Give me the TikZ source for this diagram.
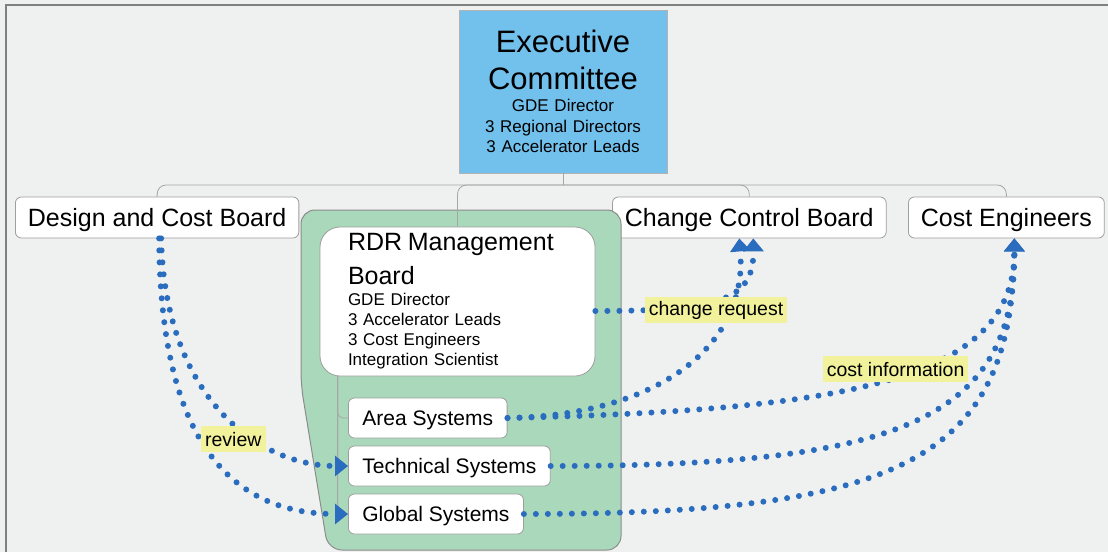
\documentclass[tikz,border=0pt]{standalone}
\usepackage{fontspec}
\setmainfont{Liberation Sans}
\usepackage{xcolor}
\usetikzlibrary{arrows.meta}
\definecolor{bggrey}{HTML}{EFF0F0}
\definecolor{execblue}{HTML}{72C0EC}
\definecolor{rdrgreen}{HTML}{AAD8BB}
\definecolor{flowblue}{HTML}{2A6CBE}
\definecolor{tagyellow}{HTML}{F2F29C}
\colorlet{edgegrey}{black!38}
\newcommand\fs[2]{\fontsize{#1}{#2}\selectfont}
\tikzstyle{frame}=[draw=black!50,line width=1.5pt]
\tikzstyle{box}=[draw=edgegrey,fill=white,line width=.8pt,rounded corners=6pt,inner xsep=12.5pt,inner ysep=0pt,minimum height=41pt,text height=18pt,text depth=0pt,font=\fs{25}{30}]
\tikzstyle{subbox}=[box,anchor=west,inner xsep=14pt,minimum height=40pt,text height=15pt,font=\fs{21}{25}]
\tikzstyle{execbox}=[draw=black!30,fill=execblue,line width=.8pt,minimum width=208pt,minimum height=163pt,inner sep=0pt,text width=206pt,align=center,font=\fs{17}{20.5}]
\tikzstyle{rdrbox}=[draw=edgegrey,fill=white,line width=.8pt,rounded corners=20pt,minimum height=149pt,inner xsep=28pt,inner ysep=0pt,text width=219pt,align=left,font=\fs{17}{20}]
\tikzstyle{group}=[draw=black!45,fill=rdrgreen,line width=1pt,rounded corners=14pt]
\tikzstyle{tree}=[draw=black!35,line width=.8pt,rounded corners=9pt]
\tikzstyle{flow}=[flowblue,line width=6pt,line cap=round,dash pattern=on 0pt off 12pt,-{Triangle[length=13pt 0,width=20pt 0]}]
\tikzstyle{tag}=[fill=tagyellow,inner xsep=4pt,inner ysep=0pt,minimum height=26pt,text=black,font=\fs{19.5}{22}]
\begin{document}
\begin{tikzpicture}[x=1pt,y=-1pt]
\useasboundingbox[fill=bggrey] (0,0) rectangle (1108,552);
\draw[frame] (6,552) -- (6,5) -- (1108,5);
% top of the chart
\node[execbox] (exec) at (563,91.5) {\vspace*{3pt}{\fs{31}{34}Executive\\Committee\par}\vspace{2pt}GDE Director\\3 Regional Directors\\3 Accelerator Leads};
\node[box,anchor=west] (dcb) at (15,217.5) {Design and Cost Board};
\node[box,anchor=west] (ccb) at (612,217.5) {Change Control Board};
\node[box,anchor=west] (ce)  at (908,217.5) {Cost Engineers};
% RDR group
\draw[group] (301,210) -- (621,210) -- (621,550) -- (328,550) -- (301,385) -- cycle;
\node[rdrbox] (rdr) at (457.5,301.5) {\vspace*{5pt}{\fs{25}{29}RDR Management\\Board\par}\vspace{1pt}GDE Director\\3 Accelerator Leads\\3 Cost Engineers\\Integration Scientist};
\node[subbox] (as) at (348,418) {Area Systems};
\node[subbox] (ts) at (348,466) {Technical Systems};
\node[subbox] (gs) at (348,514) {Global Systems};
% tree
\coordinate (bus) at (563,185);
\draw[tree] (exec.south) -- (bus);
\draw[tree] (dcb.north) |- (bus) -| (ce.north);
\draw[tree] (rdr.north) |- (bus);
\draw[tree] (ccb.north) |- (bus);
\coordinate (stem) at ([xshift=18pt]rdr.south west);
\draw[tree,rounded corners=6pt] (stem) |- (gs.west);
\draw[tree,rounded corners=6pt] (stem) |- (ts.west);
\draw[tree,rounded corners=6pt] (stem) |- (as.west);
% flows
\draw[flow] ([xshift=2pt]dcb.south) .. controls (160,440) and (230,514) .. (gs.west);
\draw[flow] ([xshift=4pt]dcb.south) .. controls (165,400) and (260,466) .. (ts.west)
  node[tag,pos=0.6,xshift=-12pt,yshift=-7pt] (rev) {review};
\draw[flow] (as.east) .. controls (660,415) and (748,345) .. ([xshift=-10pt]ccb.south);
\draw[flow] ([yshift=-9.5pt]rdr.east) .. controls (720,311) and (754,300) .. ([xshift=4pt]ccb.south)
  node[tag,pos=0.4,xshift=11pt,yshift=-7pt] (chg) {change request};
\draw[flow] (gs.east) .. controls (900,514) and (1012,460) .. ([xshift=8pt]ce.south);
\draw[flow] (ts.east) .. controls (900,466) and (1015,420) .. ([xshift=8pt]ce.south);
\draw[flow] (as.east) .. controls (850,410) and (1015,380) .. ([xshift=8pt]ce.south)
  node[tag,pos=0.5,xshift=6pt,yshift=9pt] (cost) {cost information};
\end{tikzpicture}
\end{document}
